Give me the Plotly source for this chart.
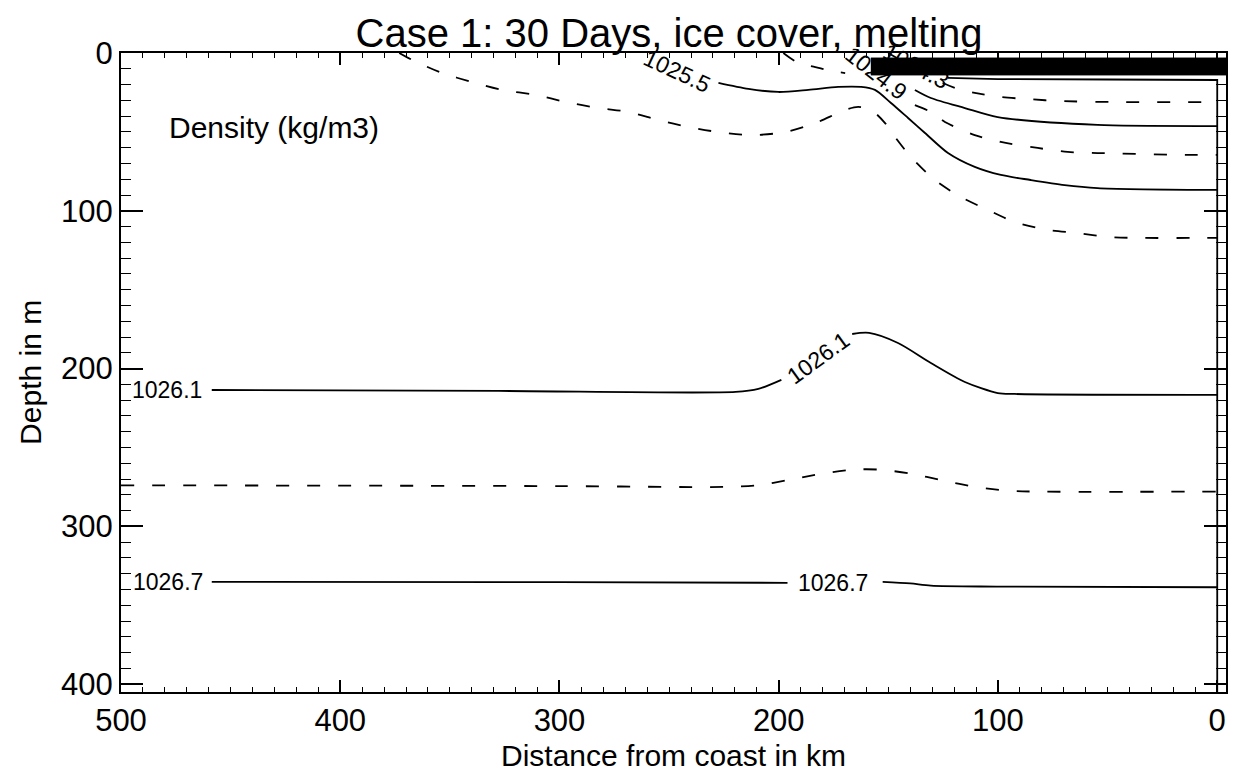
import plotly.graph_objects as go

FONT = "Liberation Sans, Arial, Helvetica, sans-serif"

# ---- data (distance from coast in km, depth in m) ----
c1025_8_x = [373.1, 367.2, 353.5, 339.9, 326.2, 310.7, 297.1, 282.1, 268.4, 254.8, 241.1, 227.5,
             212.5, 197.0, 183.3, 169.7, 163.8, 157.9, 151.5, 147.0, 139.7, 128.8, 116.9, 104.6,
             92.4, 77.3, 63.7, 50.0, 35.0, 5.9, 0]
c1025_8_y = [0, 4.4, 12.7, 18.4, 23.4, 26.6, 31.1, 34.9, 37.4, 42.5, 46.9, 50.1,
             52.0, 50.1, 44.4, 36.1, 34.2, 36.1, 44.4, 53.2, 65.9, 80.5, 91.3, 99.5,
             107.1, 112.2, 114.1, 116.6, 117.2, 117.2, 117.2]

c1025_5_x = [227.5, 213.8, 200.2, 186.5, 172.9, 162.4, 156.1, 148.8, 141.0, 133.3, 122.8, 110.6,
             98.7, 85.1, 69.6, 54.6, 3.2, 0]
c1025_5_y = [19.0, 22.8, 24.7, 23.4, 21.5, 21.5, 23.4, 31.7, 41.2, 50.7, 63.4, 72.2,
             77.3, 80.5, 83.7, 85.6, 86.8, 86.8]

c1025_2_x = [197.9, 191.1, 183.3, 176.1, 169.7, None, 137.9, 130.6, 124.2, 110.6, 98.7, 81.9,
             68.2, 54.6, 12.3, 0]
c1025_2_y = [0, 6.3, 8.9, 11.4, 12.7, None, 33.0, 37.4, 43.7, 52.0, 56.4, 60.2,
             62.7, 63.4, 64.6, 64.6]

c1024_9_x = [137.9, 130.6, 115.1, 100.1, 54.6, 3.2, 0]
c1024_9_y = [23.4, 28.5, 34.9, 40.6, 45.6, 46.3, 46.3]

c1024_6_x = [150.1, 136.5, 125.1, 118.3, 110.6, 98.7, 86.4, 72.8, 45.5, 0]
c1024_6_y = [0, 10.8, 19.0, 22.8, 25.3, 27.9, 29.2, 30.4, 31.1, 31.1]

c1024_3_x = [122.8, 100.1, 50.0, 0, 0]
c1024_3_y = [15.8, 16.5, 16.8, 17.1, 405]

c1026_1_x = [458.6, 327.6, 219.7, 209.3, 198.8, None, 166.5, 158.8, 145.6, 130.6, 115.1, 100.1, 92.4, 0]
c1026_1_y = [213.6, 214.2, 214.8, 212.9, 207.2, None, 178.1, 177.4, 183.8, 196.5, 208.5, 215.5, 216.1, 216.7]

c1026_4_x = [500, 300, 225, 210, 195, 180, 165, 155, 140, 125, 110, 95, 80, 0]
c1026_4_y = [274, 274.5, 275, 274, 270.5, 266.5, 264, 264, 266.5, 271, 275, 277.5, 278, 278]

c1026_7_x = [458.6, 300, 196, None, 152.6, 140, 130.6, 100.6, 0]
c1026_7_y = [335.2, 335.4, 335.8, None, 335.2, 336.2, 337.6, 338.2, 338.6]

ice_x = [158, -4, -4, 158]
ice_y = [3.2, 3.2, 13.9, 13.9]

# contour labels: text, x, y, angle
label_text = ["1025.5", "1024.9", "1024.3", "1026.1", "1026.1", "1026.7", "1026.7"]
label_x = [246.6, 155.6, 137.4, 478.8, 182.0, 478.6, 175.2]
label_y = [11.4, 12.7, 8.2, 213.6, 193.3, 335.2, 335.8]
label_angle = [25, 38, 28, 0, -36, 0, 0]

x_ticks = [500, 400, 300, 200, 100, 0]
y_ticks = [0, 100, 200, 300, 400]

fig = go.Figure()

def add_line(x, y, dashed, smooth=True):
    fig.add_trace(go.Scatter(
        x=x, y=y, mode="lines", showlegend=False, hoverinfo="skip",
        line=dict(color="black", width=1.8, dash="13px,18px" if dashed else "solid",
                  shape="spline" if smooth else "linear", smoothing=0.8),
    ))

add_line(c1025_8_x, c1025_8_y, True)
add_line(c1025_5_x, c1025_5_y, False)
add_line(c1025_2_x, c1025_2_y, True)
add_line(c1024_9_x, c1024_9_y, False)
add_line(c1024_6_x, c1024_6_y, True)
add_line(c1024_3_x, c1024_3_y, False, smooth=False)
add_line(c1026_1_x, c1026_1_y, False)
add_line(c1026_4_x, c1026_4_y, True)
add_line(c1026_7_x, c1026_7_y, False)

# ice cover bar
fig.add_trace(go.Scatter(
    x=ice_x, y=ice_y, mode="lines", fill="toself", fillcolor="black",
    line=dict(color="black", width=1), showlegend=False, hoverinfo="skip",
))

for t, x, y, a in zip(label_text, label_x, label_y, label_angle):
    fig.add_annotation(x=x, y=y, text=t, showarrow=False, textangle=a,
                       font=dict(family=FONT, size=23, color="black"),
                       xanchor="center", yanchor="middle")

fig.add_annotation(x=479, y=47, text="Density (kg/m3)", showarrow=False,
                   xanchor="left", yanchor="middle",
                   font=dict(family=FONT, size=30, color="black"))

# axis titles
fig.add_annotation(xref="paper", yref="paper", x=0.5, y=-0.099,
                   text="Distance from coast in km", showarrow=False,
                   xanchor="center", yanchor="middle",
                   font=dict(family=FONT, size=30, color="black"))
fig.add_annotation(xref="paper", yref="paper", x=-0.082, y=0.5,
                   text="Depth in m", showarrow=False, textangle=-90,
                   xanchor="center", yanchor="middle",
                   font=dict(family=FONT, size=30, color="black"))

fig.update_layout(
    width=1251, height=772,
    margin=dict(l=121, r=25, t=53, b=80),
    paper_bgcolor="white", plot_bgcolor="white",
    title=dict(text="Case 1: 30 Days, ice cover, melting", x=0.496, xref="paper",
               y=0.957, yref="container", xanchor="center", yanchor="middle",
               font=dict(family=FONT, size=40, color="black")),
    showlegend=False,
)

fig.update_xaxes(
    range=[500, -4], tickvals=x_ticks, ticks="inside", ticklen=12, tickwidth=1.5,
    tickcolor="black", showline=True, linecolor="black", linewidth=2, mirror="ticks",
    showgrid=False, zeroline=False,
    tickfont=dict(family=FONT, size=31, color="black"),
    minor=dict(dtick=10, ticks="inside", ticklen=5, tickwidth=1.2, tickcolor="black", showgrid=False),
)
fig.update_yaxes(
    range=[405, 0], tickvals=y_ticks, ticks="inside", ticklen=22, tickwidth=1.5,
    tickcolor="black", showline=True, linecolor="black", linewidth=2, mirror="ticks",
    showgrid=False, zeroline=False,
    tickfont=dict(family=FONT, size=31, color="black"),
    minor=dict(dtick=10, ticks="inside", ticklen=10, tickwidth=1.2, tickcolor="black", showgrid=False),
)

fig.write_html("out.html")
